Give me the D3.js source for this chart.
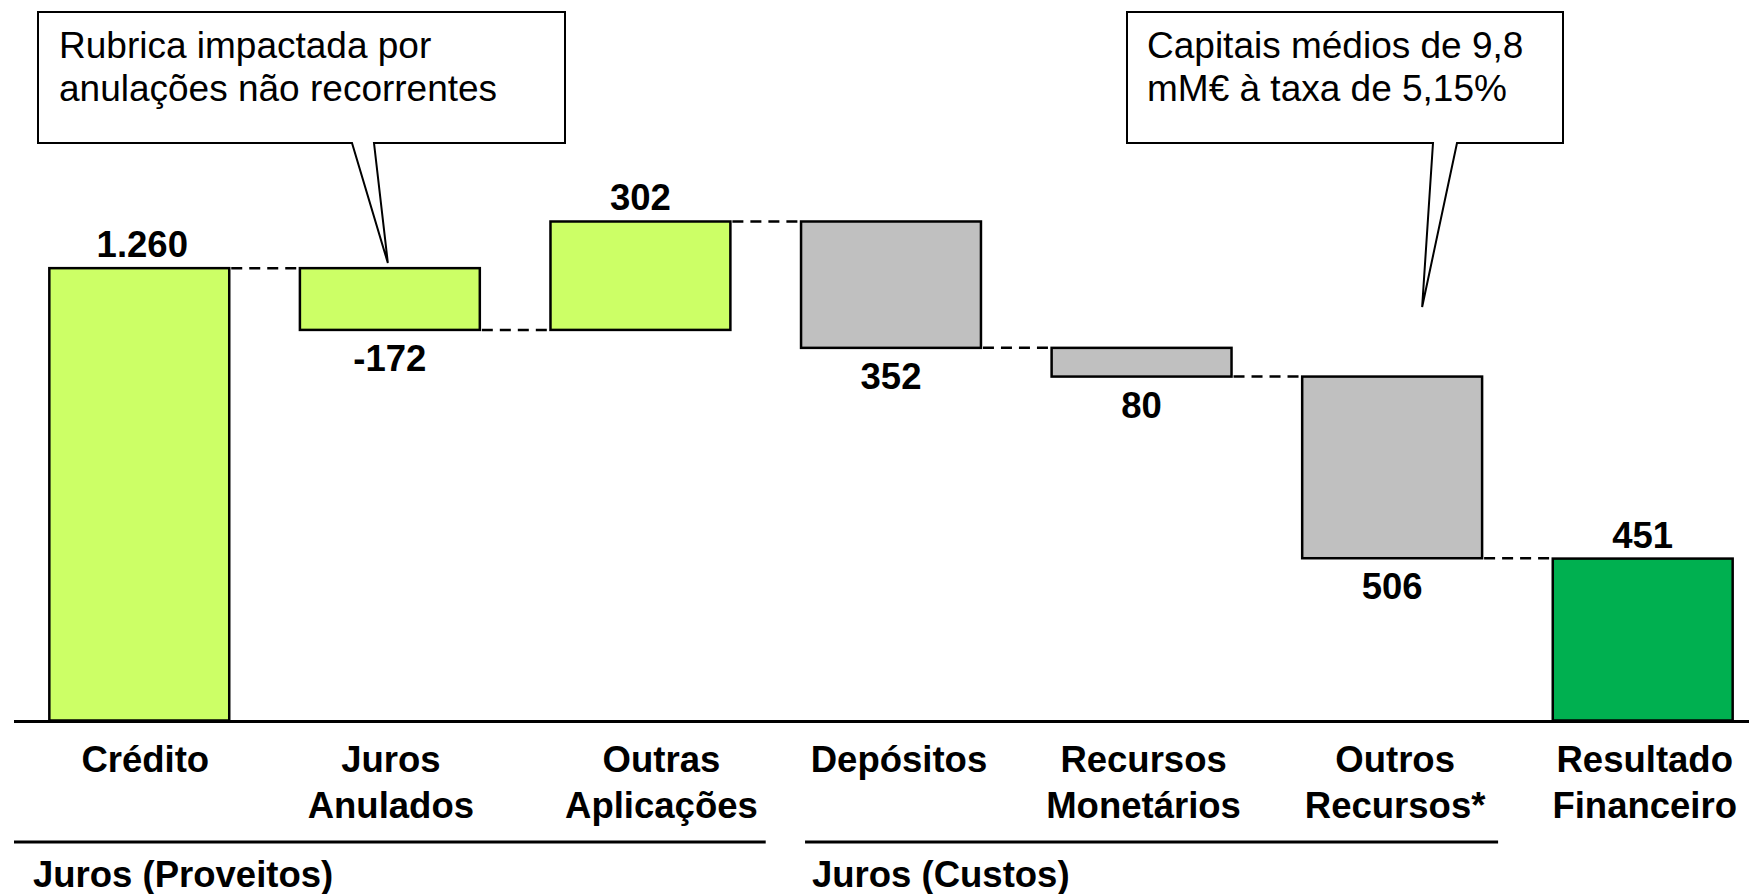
<!DOCTYPE html>
<html>
<head>
<meta charset="utf-8">
<script src="https://cdn.jsdelivr.net/npm/d3@7"></script>
<style>
  html, body { margin: 0; padding: 0; background: #ffffff; }
  svg { display: block; }
  text { font-family: "Liberation Sans", Arial, sans-serif; }
</style>
</head>
<body>
<svg id="chart" width="1749" height="894"></svg>
<script>
// ---- data ----
const categories = ["Crédito", "Juros Anulados", "Outras Aplicações", "Depósitos", "Recursos Monetários", "Outros Recursos*", "Resultado Financeiro"];
const labelLines = [["Crédito"], ["Juros", "Anulados"], ["Outras", "Aplicações"], ["Depósitos"], ["Recursos", "Monetários"], ["Outros", "Recursos*"], ["Resultado", "Financeiro"]];
const deltas = [1260, -172, 302, -352, -80, -506, 451];
const kinds = ["total", "delta", "delta", "delta", "delta", "delta", "total"];
const valueLabels = ["1.260", "-172", "302", "352", "80", "506", "451"];
const colors = ["#CCFF66", "#CCFF66", "#CCFF66", "#C0C0C0", "#C0C0C0", "#C0C0C0", "#00B050"];
const groupNames = ["Juros (Proveitos)", "Juros (Custos)"];
const calloutTexts = [["Rubrica impactada por", "anulações não recorrentes"], ["Capitais médios de 9,8", "mM€ à taxa de 5,15%"]];

// ---- layout tweaks (pixels, not data) ----
const catLabelShift = [6, 1, 21, 8, 2, 3, 2];
const valLabelShift = [3, 0, 0, 0, 0, 0, 0];

// ---- build waterfall ----
let running = 0;
const bars = categories.map((c, i) => {
  let start, end;
  if (kinds[i] === "total") { start = 0; end = deltas[i]; running = deltas[i]; }
  else { start = running; end = running + deltas[i]; running = end; }
  return { i, cat: c, start, end, lo: Math.min(start, end), hi: Math.max(start, end), neg: end < start, lines: labelLines[i], label: valueLabels[i], color: colors[i] };
});

const svg = d3.select("#chart");
const x = d3.scaleBand().domain(categories).range([14, 1768]).paddingInner(0.282).paddingOuter(0.141);
const y = d3.scaleLinear().domain([0, 2000]).range([720.5, 2.5]);
const bw = x.bandwidth();

// connectors
for (let i = 0; i < bars.length - 1; i++) {
  const lvl = bars[i].end;
  svg.append("line")
    .attr("x1", x(bars[i].cat) + bw + 2).attr("x2", x(bars[i + 1].cat) - 2)
    .attr("y1", y(lvl)).attr("y2", y(lvl))
    .attr("stroke", "#000").attr("stroke-width", 2.5).attr("stroke-dasharray", "11,7");
}

// bars
svg.selectAll("rect.bar").data(bars).enter().append("rect")
  .attr("class", "bar")
  .attr("x", d => x(d.cat)).attr("width", bw)
  .attr("y", d => y(d.hi)).attr("height", d => y(d.lo) - y(d.hi))
  .attr("fill", d => d.color).attr("stroke", "#000").attr("stroke-width", 2.5);

// value labels
svg.selectAll("text.val").data(bars).enter().append("text")
  .attr("class", "val")
  .attr("x", d => x(d.cat) + bw / 2 + valLabelShift[d.i])
  .attr("y", d => d.neg ? y(d.lo) + 41 : y(d.hi) - 11)
  .attr("text-anchor", "middle")
  .attr("font-size", 36.5).attr("font-weight", "bold").attr("fill", "#000")
  .text(d => d.label);

// axis baseline
svg.append("line").attr("x1", 14).attr("x2", 1749).attr("y1", y(0) + 1).attr("y2", y(0) + 1)
  .attr("stroke", "#000").attr("stroke-width", 3);

// category labels
bars.forEach(d => {
  const t = svg.append("text").attr("text-anchor", "middle")
    .attr("font-size", 36.5).attr("font-weight", "bold").attr("fill", "#000");
  d.lines.forEach((ln, k) => {
    t.append("tspan").attr("x", x(d.cat) + bw / 2 + catLabelShift[d.i]).attr("y", 771.5 + k * 46).text(ln);
  });
});

// group lines & labels
const step = x.step();
const groups = [
  { name: groupNames[0], x1: 14, x2: x(categories[2]) + bw + (step - bw) / 2, tx: 33 },
  { name: groupNames[1], x1: x(categories[3]) + 4, x2: x(categories[5]) + bw + 16, tx: 812 }
];
groups.forEach(g => {
  svg.append("line").attr("x1", g.x1).attr("x2", g.x2).attr("y1", 842).attr("y2", 842)
    .attr("stroke", "#000").attr("stroke-width", 3);
  svg.append("text").attr("x", g.tx).attr("y", 886.5)
    .attr("font-size", 36.5).attr("font-weight", "bold").attr("fill", "#000").text(g.name);
});

// callouts
const callouts = [
  { left: 38, right: 565, top: 12, bottom: 143, bl: 352, br: 374, tip: [x(categories[1]) + bw / 2 - 2, 263], tx: 59, lines: calloutTexts[0] },
  { left: 1127, right: 1563, top: 12, bottom: 143, bl: 1433, br: 1457, tip: [x(categories[5]) + bw / 2 + 30, 307], tx: 1147, lines: calloutTexts[1] }
];
callouts.forEach(c => {
  const p = d3.path();
  p.moveTo(c.left, c.top);
  p.lineTo(c.right, c.top);
  p.lineTo(c.right, c.bottom);
  p.lineTo(c.br, c.bottom);
  p.lineTo(c.tip[0], c.tip[1]);
  p.lineTo(c.bl, c.bottom);
  p.lineTo(c.left, c.bottom);
  p.closePath();
  svg.append("path").attr("d", p.toString()).attr("fill", "#fff").attr("stroke", "#000").attr("stroke-width", 2);
  const t = svg.append("text").attr("font-size", 37).attr("fill", "#000");
  c.lines.forEach((ln, k) => {
    t.append("tspan").attr("x", c.tx).attr("y", 58 + k * 43).text(ln);
  });
});
</script>
</body>
</html>
